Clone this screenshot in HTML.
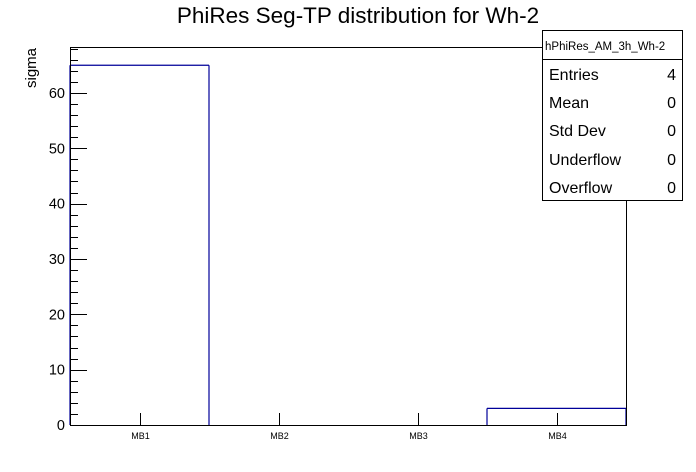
<!DOCTYPE html>
<html><head><meta charset="utf-8"><style>
body{margin:0;background:#fff;}
svg{display:block;font-family:"Liberation Sans",Arial,sans-serif;}
</style></head><body>
<svg id="c" width="696" height="472">
<text x="358" y="23" text-anchor="middle" font-size="22.5">PhiRes Seg-TP distribution for Wh-2</text>
<text transform="translate(36,88) rotate(-90)" text-anchor="start" font-size="15">sigma</text>
<g id="plot"></g>
<g>
<rect x="542.5" y="30.5" width="140" height="170" fill="#fff" stroke="#000"/>
<line x1="542" y1="59.5" x2="682" y2="59.5" stroke="#000"/>
<text x="545" y="50" font-size="11.5">hPhiRes_AM_3h_Wh-2</text>
<g font-size="16">
<text x="549" y="80">Entries</text><text x="676" y="80" text-anchor="end">4</text>
<text x="549" y="108">Mean</text><text x="676" y="108" text-anchor="end">0</text>
<text x="549" y="136">Std Dev</text><text x="676" y="136" text-anchor="end">0</text>
<text x="549" y="165">Underflow</text><text x="676" y="165" text-anchor="end">0</text>
<text x="549" y="193">Overflow</text><text x="676" y="193" text-anchor="end">0</text>
</g></g>
</svg>
<script>
const categories=["MB1","MB2","MB3","MB4"];
const values=[65,0,0,3];
const yTicks=[0,10,20,30,40,50,60];
const X0=70,X1=626,Y0=425,Y1=47,YMAX=68.3;
const NS="http://www.w3.org/2000/svg";
const g=document.getElementById('plot');
const bw=(X1-X0)/categories.length;
const xs=i=>X0+i*bw;
const ys=v=>Y0-(v/YMAX)*(Y0-Y1);
function mk(t,a){const e=document.createElementNS(NS,t);for(const k in a)e.setAttribute(k,a[k]);g.appendChild(e);return e;}
// histogram outline: verticals at bin edges, horizontals only for non-zero bins
let d='';
const vals=[0,...values,0];
for(let i=0;i<=values.length;i++){
  const a=vals[i],b=vals[i+1],x=xs(i);
  if(a!==b) d+=` M${x},${ys(a)} L${x},${ys(b)}`;
}
values.forEach((v,i)=>{if(v!==0) d+=` M${xs(i)},${ys(v)} L${xs(i+1)},${ys(v)}`;});
const h=mk('path',{d:d.trim(),fill:'none',stroke:'#000099','stroke-width':1.2});


// frame
const fr=mk('rect',{x:X0+.5,y:Y1+.5,width:X1-X0,height:Y0-Y1,fill:'none',stroke:'#000'});


// y ticks
for(let v=0;v<=YMAX;v+=2){const y=Math.round(ys(v))+.5;const major=v%10===0;
const t=mk('line',{x1:X0,y1:y,x2:X0+(major?17:8),y2:y,stroke:'#000'});

}
yTicks.forEach(v=>{const t=mk('text',{x:X0-5,y:ys(v)+5,'text-anchor':'end','font-size':14.5});t.textContent=v;

});
// x ticks and labels
categories.forEach((c,i)=>{const x=Math.round(xs(i)+bw/2)+.5;
const t=mk('line',{x1:x,y1:Y0,x2:x,y2:Y0-12,stroke:'#000'});


const l=mk('text',{x:x,y:439,'text-anchor':'middle','font-size':9});l.textContent=c;

});
</script>
</body></html>
